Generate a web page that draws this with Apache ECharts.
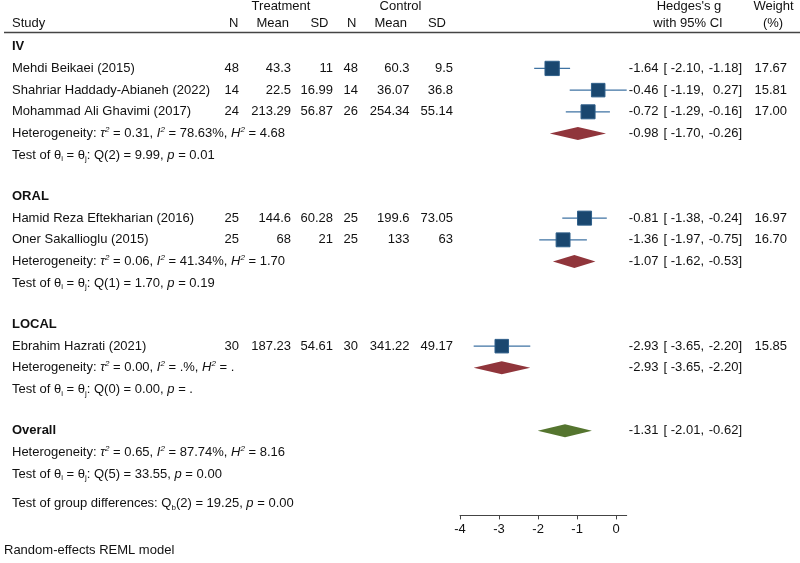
<!DOCTYPE html>
<html>
<head>
<meta charset="utf-8">
<script src="https://cdn.jsdelivr.net/npm/echarts@6/dist/echarts.min.js"></script>
<style>
  html, body { margin: 0; background: #fff; }
  #chart { width: 800px; height: 563px; }
</style>
</head>
<body>
<div id="chart"></div>
<script>
// ---- data ----
const studies = ['Mehdi Beikaei (2015)', 'Shahriar Haddady-Abianeh (2022)', 'Mohammad Ali Ghavimi (2017)',
  'Hamid Reza Eftekharian (2016)', 'Oner Sakallioglu (2015)', 'Ebrahim Hazrati (2021)'];
const studyGroup = ['IV', 'IV', 'IV', 'ORAL', 'ORAL', 'LOCAL'];
const treatN = [48, 14, 24, 25, 25, 30];
const treatMean = [43.3, 22.5, 213.29, 144.6, 68, 187.23];
const treatSD = [11, 16.99, 56.87, 60.28, 21, 54.61];
const ctrlN = [48, 14, 26, 25, 25, 30];
const ctrlMean = [60.3, 36.07, 254.34, 199.6, 133, 341.22];
const ctrlSD = [9.5, 36.8, 55.14, 73.05, 63, 49.17];
const effect = [-1.64, -0.46, -0.72, -0.81, -1.36, -2.93];
const ciLow = [-2.10, -1.19, -1.29, -1.38, -1.97, -3.65];
const ciHigh = [-1.18, 0.27, -0.16, -0.24, -0.75, -2.20];
const weight = [17.67, 15.81, 17.00, 16.97, 16.70, 15.85];

const groups = ['IV', 'ORAL', 'LOCAL'];
const groupEffect = [-0.98, -1.07, -2.93];
const groupLow = [-1.70, -1.62, -3.65];
const groupHigh = [-0.26, -0.53, -2.20];
const groupTau2 = ['0.31', '0.06', '0.00'];
const groupI2 = ['78.63', '41.34', '.'];
const groupH2 = ['4.68', '1.70', '.'];
const groupDf = [2, 1, 0];
const groupQ = ['9.99', '1.70', '0.00'];
const groupP = ['0.01', '0.19', '.'];

const overall = { effect: -1.31, low: -2.01, high: -0.62, tau2: '0.65', i2: '87.74', h2: '8.16', df: 5, q: '33.55', p: '0.00' };
const groupDiff = { df: 2, q: '19.25', p: '0.00' };

const xTicks = [-4, -3, -2, -1, 0];

// ---- layout ----
const FONT = '"Liberation Sans", Arial, sans-serif';
const TXT = '#111';
const SECTION_GAP = 1.9;

const rows = [];
const studyRow = [];
const groupRow = [];
let r = 0;
groups.forEach((g, gi) => {
  rows.push({ y: r, kind: 'head', label: g });
  r += 1;
  studyGroup.forEach((sg, si) => {
    if (sg === g) { studyRow[si] = r; rows.push({ y: r, kind: 'study', i: si }); r += 1; }
  });
  groupRow[gi] = r;
  rows.push({ y: r, kind: 'het', tau2: groupTau2[gi], i2: groupI2[gi], h2: groupH2[gi],
    ci: [groupEffect[gi], groupLow[gi], groupHigh[gi]] });
  r += 1;
  rows.push({ y: r, kind: 'test', df: groupDf[gi], q: groupQ[gi], p: groupP[gi] });
  r += SECTION_GAP;
});
const overallRow = r;
rows.push({ y: r, kind: 'head', label: 'Overall', ci: [overall.effect, overall.low, overall.high] });
rows.push({ y: r + 1, kind: 'het', tau2: overall.tau2, i2: overall.i2, h2: overall.h2 });
rows.push({ y: r + 2, kind: 'test', df: overall.df, q: overall.q, p: overall.p });
rows.push({ y: r + 3.35, kind: 'diff' });

const f2 = v => v.toFixed(2);
const rich = {
  n: { fontSize: 13, fontFamily: FONT, fill: TXT, lineHeight: 16 },
  it: { fontSize: 13, fontFamily: FONT, fontStyle: 'italic', fill: TXT, lineHeight: 16 },
  sup: { fontSize: 8, fontFamily: FONT, fontStyle: 'italic', fill: TXT, lineHeight: 8, verticalAlign: 'top' },
  sub: { fontSize: 8, fontFamily: FONT, fill: TXT, lineHeight: 8, verticalAlign: 'bottom' }
};

function txt(x, y, text, align, bold) {
  return {
    type: 'text',
    style: {
      x: x, y: y, text: text, fill: TXT,
      font: (bold ? 'bold ' : '') + '13px ' + FONT,
      textAlign: align, align: align, textVerticalAlign: 'middle', verticalAlign: 'middle'
    }
  };
}
function richTxt(x, y, text) {
  return {
    type: 'text',
    style: {
      x: x, y: y, text: text, rich: rich, fill: TXT, font: '13px ' + FONT,
      textAlign: 'left', align: 'left', textVerticalAlign: 'middle', verticalAlign: 'middle'
    }
  };
}
function ciText(y, c) {
  return [
    txt(658.5, y, f2(c[0]), 'right'),
    txt(663.5, y, '[', 'left'),
    txt(704, y, f2(c[1]) + ',', 'right'),
    txt(742, y, f2(c[2]) + ']', 'right')
  ];
}

function renderRow(params, api) {
  const row = rows[params.dataIndex];
  const y = api.coord([0, api.value(1)])[1];
  let kids = [];
  if (row.kind === 'head') {
    kids.push(txt(12, y, row.label, 'left', true));
    if (row.ci) kids = kids.concat(ciText(y, row.ci));
  } else if (row.kind === 'study') {
    const i = row.i;
    kids.push(txt(12, y, studies[i], 'left'));
    kids.push(txt(239, y, String(treatN[i]), 'right'));
    kids.push(txt(291, y, String(treatMean[i]), 'right'));
    kids.push(txt(333, y, String(treatSD[i]), 'right'));
    kids.push(txt(358, y, String(ctrlN[i]), 'right'));
    kids.push(txt(409.5, y, String(ctrlMean[i]), 'right'));
    kids.push(txt(453, y, String(ctrlSD[i]), 'right'));
    kids = kids.concat(ciText(y, [effect[i], ciLow[i], ciHigh[i]]));
    kids.push(txt(787, y, f2(weight[i]), 'right'));
  } else if (row.kind === 'het') {
    kids.push(richTxt(12, y, '{n|Heterogeneity: }{it|τ}{sup|2}{n| = ' + row.tau2 + ', }{it|I}{sup|2}{n| = ' +
      row.i2 + '%, }{it|H}{sup|2}{n| = ' + row.h2 + '}'));
    if (row.ci) kids = kids.concat(ciText(y, row.ci));
  } else if (row.kind === 'test') {
    kids.push(richTxt(12, y, '{n|Test of θ}{sub|i}{n| = θ}{sub|j}{n|: Q(' + row.df + ') = ' + row.q +
      ', }{it|p}{n| = ' + row.p + '}'));
  } else if (row.kind === 'diff') {
    kids.push(richTxt(12, y, '{n|Test of group differences: Q}{sub|b}{n|(' + groupDiff.df + ') = ' +
      groupDiff.q + ', }{it|p}{n| = ' + groupDiff.p + '}'));
  }
  return { type: 'group', children: kids };
}

const chart = echarts.init(document.getElementById('chart'));
chart.setOption({
  animation: false,
  backgroundColor: '#fff',
  grid: { left: 460, right: 173.3, top: 33.7, bottom: 47.6 },
  xAxis: {
    type: 'value', min: xTicks[0], max: Math.max(...ciHigh), interval: 1,
    splitLine: { show: false },
    axisLine: { show: true, onZero: false, lineStyle: { color: '#444', width: 1 } },
    axisTick: { show: true, length: 4, customValues: xTicks, lineStyle: { color: '#444' } },
    axisLabel: { customValues: xTicks, color: TXT, fontSize: 13, fontFamily: FONT, margin: 8 }
  },
  yAxis: { type: 'value', inverse: true, min: -0.6, max: 21.6, show: false },
  graphic: [
    { type: 'text', style: { x: 281, y: 6, text: 'Treatment', fill: TXT, font: '13px ' + FONT, textAlign: 'center', textVerticalAlign: 'middle' } },
    { type: 'text', style: { x: 400.5, y: 6, text: 'Control', fill: TXT, font: '13px ' + FONT, textAlign: 'center', textVerticalAlign: 'middle' } },
    { type: 'text', style: { x: 689, y: 6, text: "Hedges's g", fill: TXT, font: '13px ' + FONT, textAlign: 'center', textVerticalAlign: 'middle' } },
    { type: 'text', style: { x: 773.5, y: 6, text: 'Weight', fill: TXT, font: '13px ' + FONT, textAlign: 'center', textVerticalAlign: 'middle' } },
    { type: 'text', style: { x: 12, y: 23, text: 'Study', fill: TXT, font: '13px ' + FONT, textAlign: 'left', textVerticalAlign: 'middle' } },
    { type: 'text', style: { x: 238.5, y: 23, text: 'N', fill: TXT, font: '13px ' + FONT, textAlign: 'right', textVerticalAlign: 'middle' } },
    { type: 'text', style: { x: 289, y: 23, text: 'Mean', fill: TXT, font: '13px ' + FONT, textAlign: 'right', textVerticalAlign: 'middle' } },
    { type: 'text', style: { x: 328.5, y: 23, text: 'SD', fill: TXT, font: '13px ' + FONT, textAlign: 'right', textVerticalAlign: 'middle' } },
    { type: 'text', style: { x: 356.5, y: 23, text: 'N', fill: TXT, font: '13px ' + FONT, textAlign: 'right', textVerticalAlign: 'middle' } },
    { type: 'text', style: { x: 407, y: 23, text: 'Mean', fill: TXT, font: '13px ' + FONT, textAlign: 'right', textVerticalAlign: 'middle' } },
    { type: 'text', style: { x: 446, y: 23, text: 'SD', fill: TXT, font: '13px ' + FONT, textAlign: 'right', textVerticalAlign: 'middle' } },
    { type: 'text', style: { x: 688, y: 23, text: 'with 95% CI', fill: TXT, font: '13px ' + FONT, textAlign: 'center', textVerticalAlign: 'middle' } },
    { type: 'text', style: { x: 773, y: 23, text: '(%)', fill: TXT, font: '13px ' + FONT, textAlign: 'center', textVerticalAlign: 'middle' } },
    { type: 'line', shape: { x1: 4, y1: 32.5, x2: 800, y2: 32.5 }, style: { stroke: '#444', lineWidth: 1.5 } },
    { type: 'text', style: { x: 4, y: 550, text: 'Random-effects REML model', fill: TXT, font: '13px ' + FONT, textAlign: 'left', textVerticalAlign: 'middle' } }
  ],
  series: [
    {
      // confidence interval whiskers
      type: 'custom',
      encode: { x: [0, 1], y: 2 },
      data: studies.map((s, i) => [ciLow[i], ciHigh[i], studyRow[i]]),
      renderItem: (params, api) => {
        const a = api.coord([api.value(0), api.value(2)]);
        const b = api.coord([api.value(1), api.value(2)]);
        return { type: 'line', shape: { x1: a[0], y1: a[1], x2: b[0], y2: b[1] },
          style: { stroke: '#3f73a3', lineWidth: 1.3 } };
      },
      z: 2
    },
    {
      type: 'scatter',
      symbol: 'rect',
      data: studies.map((s, i) => [effect[i], studyRow[i], weight[i]]),
      symbolSize: v => 14.3 * Math.sqrt(v[2] / 17.67),
      itemStyle: { color: '#1a476f', borderColor: '#2f5f8a', borderWidth: 1, opacity: 1 },
      z: 3
    },
    {
      // subgroup and overall diamonds
      type: 'custom',
      encode: { x: [0, 1, 2], y: 3 },
      data: groups.map((g, gi) => [groupLow[gi], groupEffect[gi], groupHigh[gi], groupRow[gi], 0])
        .concat([[overall.low, overall.effect, overall.high, overallRow, 1]]),
      renderItem: (params, api) => {
        const y = api.coord([0, api.value(3)])[1];
        const xl = api.coord([api.value(0), 0])[0];
        const xm = api.coord([api.value(1), 0])[0];
        const xh = api.coord([api.value(2), 0])[0];
        return { type: 'polygon', shape: { points: [[xl, y], [xm, y - 6.5], [xh, y], [xm, y + 6.5]] },
          style: { fill: api.value(4) ? '#55752f' : '#90353b' } };
      },
      z: 3
    },
    {
      // table text
      type: 'custom',
      encode: { x: 0, y: 1 },
      data: rows.map(row => [0, row.y]),
      renderItem: renderRow,
      clip: false,
      z: 4
    }
  ]
});
</script>
</body>
</html>
